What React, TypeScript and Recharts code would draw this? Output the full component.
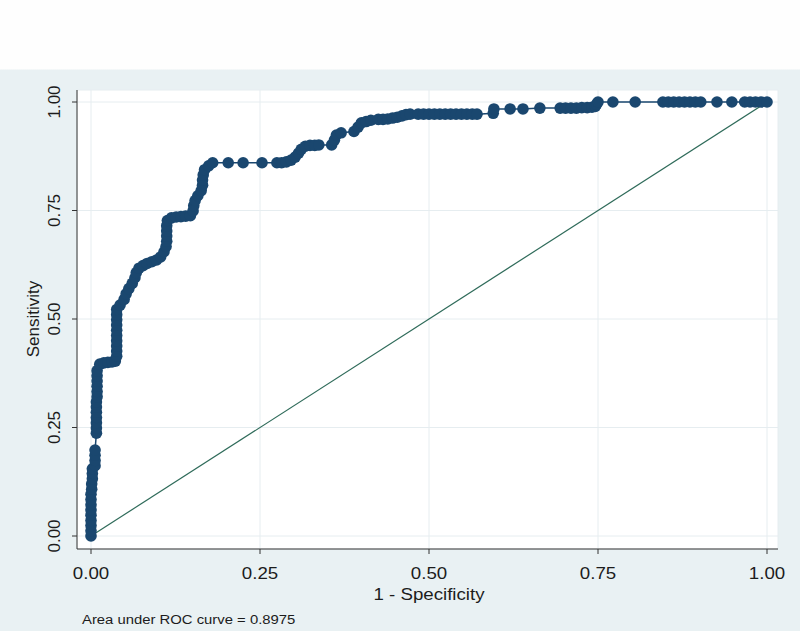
import React from 'react';
import { ScatterChart, Scatter, XAxis, YAxis, CartesianGrid, ReferenceLine } from 'recharts';

// ROC points (1 - specificity, sensitivity)
const fpr = [
  0, 0, 0, 0, 0, 0, 0, 0, 0, 0.001, 0.001, 0.002, 0.002, 0.002,
  0.006, 0.006, 0.006, 0.006,
  0.008, 0.008, 0.008, 0.008, 0.008, 0.008, 0.008, 0.009, 0.009, 0.009, 0.009, 0.009, 0.009,
  0.013, 0.019, 0.025, 0.031, 0.036,
  0.038, 0.038, 0.038, 0.038, 0.038, 0.038, 0.038, 0.038, 0.038, 0.038,
  0.043, 0.049, 0.052, 0.056, 0.061, 0.065, 0.067, 0.071, 0.077, 0.083, 0.09, 0.097, 0.103, 0.108,
  0.111, 0.112, 0.112, 0.112, 0.112, 0.113,
  0.119, 0.126, 0.133, 0.14, 0.147,
  0.151, 0.152, 0.154, 0.158, 0.163, 0.165, 0.165, 0.166, 0.168, 0.174, 0.18,
  0.203, 0.225, 0.253,
  0.275, 0.282, 0.289, 0.296, 0.302, 0.307, 0.311, 0.317, 0.324, 0.331, 0.337,
  0.356, 0.36, 0.363, 0.37, 0.389, 0.395, 0.4, 0.407, 0.414,
  0.425, 0.432, 0.439, 0.446, 0.453, 0.46, 0.466, 0.472,
  0.484, 0.492, 0.5, 0.508, 0.516, 0.524, 0.532, 0.54,
  0.548, 0.556, 0.564, 0.571,
  0.595, 0.596, 0.62, 0.639, 0.664,
  0.694, 0.702, 0.71, 0.718, 0.726, 0.734, 0.741, 0.746, 0.748, 0.75,
  0.772, 0.805, 0.846, 0.854, 0.862, 0.87, 0.878, 0.886, 0.894, 0.902,
  0.926, 0.948, 0.967, 0.975, 0.983, 0.991, 1,
];

const tpr = [
  0, 0.012, 0.024, 0.036, 0.048, 0.06, 0.072, 0.084, 0.096, 0.108, 0.12, 0.132, 0.144, 0.155,
  0.162, 0.174, 0.186, 0.198,
  0.237, 0.249, 0.261, 0.273, 0.285, 0.297, 0.309, 0.321, 0.333, 0.345, 0.357, 0.369, 0.381,
  0.396, 0.399, 0.4, 0.401, 0.403,
  0.414, 0.426, 0.438, 0.45, 0.462, 0.474, 0.486, 0.498, 0.51, 0.522,
  0.532, 0.545, 0.558, 0.57, 0.582, 0.595, 0.607, 0.617, 0.623, 0.628, 0.632, 0.636, 0.643, 0.655,
  0.667, 0.679, 0.691, 0.703, 0.715, 0.727,
  0.733, 0.735, 0.736, 0.737, 0.738,
  0.749, 0.761, 0.773, 0.784, 0.796, 0.808, 0.82, 0.832, 0.844, 0.853, 0.86,
  0.86, 0.86, 0.86,
  0.86, 0.86, 0.862, 0.866, 0.873, 0.882, 0.891, 0.898, 0.9, 0.9, 0.901,
  0.901, 0.912, 0.924, 0.929, 0.932, 0.942, 0.952, 0.955, 0.958,
  0.96, 0.96, 0.961, 0.963, 0.965, 0.968, 0.971, 0.972,
  0.972, 0.972, 0.972, 0.972, 0.972, 0.972, 0.972, 0.972,
  0.972, 0.972, 0.972, 0.972,
  0.974, 0.984, 0.984, 0.984, 0.986,
  0.986, 0.986, 0.986, 0.986, 0.987, 0.987, 0.988, 0.99, 0.995, 1,
  1, 1, 1, 1, 1, 1, 1, 1, 1, 1,
  1, 1, 1, 1, 1, 1, 1,
];

const axisTicks = [0, 0.25, 0.5, 0.75, 1];
const refX = [0, 1];
const refY = [0, 1];

const xTitle = '1 - Specificity';
const yTitle = 'Sensitivity';
const aucNote = 'Area under ROC curve = 0.8975';

const NAVY = '#1a476f';
const REF_GREEN = '#2f6b5a';
const BG = '#e9f1f3';
const TEXT = '#1c1c1c';
const FONT = '"Liberation Sans", Arial, sans-serif';

const rocData = fpr.map((x, i) => ({ fpr: x, tpr: tpr[i] }));

const XTick = ({ x, y, payload }: any) => (
  <g transform={`translate(${x},${y + 23})`}>
    <text transform="scale(1.1,1)" textAnchor="middle" fontSize={17} fill={TEXT} fontFamily={FONT}>
      {Number(payload.value).toFixed(2)}
    </text>
  </g>
);

const YTick = ({ x, y, payload }: any) => (
  <g transform={`translate(${x - 10},${y}) rotate(-90)`}>
    <text textAnchor="middle" fontSize={17} fill={TEXT} fontFamily={FONT}>
      {Number(payload.value).toFixed(2)}
    </text>
  </g>
);

// Stata-style filled marker, a bit chunky
const Dot = (props: any) => <circle cx={props.cx} cy={props.cy} r={5.8} fill={NAVY} />;

export default function App() {
  return (
    <div
      style={{
        position: 'absolute',
        left: 0,
        top: 0,
        width: 800,
        height: 631,
        background: `linear-gradient(#fefefe 0px, #fefefe 69px, ${BG} 70px, ${BG} 100%)`,
      }}
    >
      <ScatterChart width={800} height={631} margin={{ top: 90, right: 22, bottom: 22, left: 17 }}>
        <CartesianGrid fill="#ffffff" stroke="#e6edf0" strokeWidth={1} />
        <XAxis
          type="number"
          dataKey="fpr"
          domain={[0, 1]}
          ticks={axisTicks}
          padding={{ left: 14, right: 11 }}
          height={60}
          tickSize={5}
          axisLine={{ stroke: '#333' }}
          tickLine={{ stroke: '#333' }}
          tick={<XTick />}
        />
        <YAxis
          type="number"
          dataKey="tpr"
          domain={[0, 1]}
          ticks={axisTicks}
          padding={{ top: 12, bottom: 13 }}
          width={60}
          tickSize={5}
          axisLine={{ stroke: '#333' }}
          tickLine={{ stroke: '#333' }}
          tick={<YTick />}
        />
        <ReferenceLine
          segment={[{ x: refX[0], y: refY[0] }, { x: refX[1], y: refY[1] }]}
          stroke={REF_GREEN}
          strokeWidth={1.2}
        />
        <Scatter
          data={rocData}
          line={{ stroke: NAVY, strokeWidth: 1.5 }}
          lineType="joint"
          shape={<Dot />}
          isAnimationActive={false}
        />
      </ScatterChart>
      <svg
        width={800}
        height={631}
        style={{ position: 'absolute', left: 0, top: 0, pointerEvents: 'none' }}
      >
        <text
          transform="translate(39,319) rotate(-90)"
          textAnchor="middle"
          fontSize={17}
          fill={TEXT}
          fontFamily={FONT}
        >
          {yTitle}
        </text>
        <text x={429} y={600} textAnchor="middle" fontSize={17} fill={TEXT} fontFamily={FONT}
          transform="translate(429,0) scale(1.1,1) translate(-429,0)">
          {xTitle}
        </text>
        <text x={82} y={624} fontSize={13.5} fill={TEXT} fontFamily={FONT}
          transform="translate(82,0) scale(1.1,1) translate(-82,0)">
          {aucNote}
        </text>
      </svg>
    </div>
  );
}
